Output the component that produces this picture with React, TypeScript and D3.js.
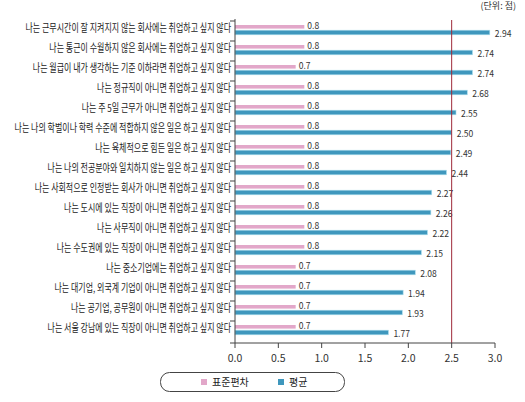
import React from 'react';
import * as d3 from 'd3';

const categories = [
  '나는 근무시간이 잘 지켜지지 않는 회사에는 취업하고 싶지 않다',
  '나는 통근이 수월하지 않은 회사에는 취업하고 싶지 않다',
  '나는 월급이 내가 생각하는 기준 이하라면 취업하고 싶지 않다',
  '나는 정규직이 아니면 취업하고 싶지 않다',
  '나는 주 5일 근무가 아니면 취업하고 싶지 않다',
  '나는 나의 학벌이나 학력 수준에 적합하지 않은 일은 하고 싶지 않다',
  '나는 육체적으로 힘든 일은 하고 싶지 않다',
  '나는 나의 전공분야와 일치하지 않는 일은 하고 싶지 않다',
  '나는 사회적으로 인정받는 회사가 아니면 취업하고 싶지 않다',
  '나는 도시에 있는 직장이 아니면 취업하고 싶지 않다',
  '나는 사무직이 아니면 취업하고 싶지 않다',
  '나는 수도권에 있는 직장이 아니면 취업하고 싶지 않다',
  '나는 중소기업에는 취업하고 싶지 않다',
  '나는 대기업, 외국계 기업이 아니면 취업하고 싶지 않다',
  '나는 공기업,  공무원이 아니면 취업하고 싶지 않다',
  '나는 서울 강남에 있는 직장이 아니면 취업하고 싶지 않다',
];

const stdDev = [0.8, 0.8, 0.7, 0.8, 0.8, 0.8, 0.8, 0.8, 0.8, 0.8, 0.8, 0.8, 0.7, 0.7, 0.7, 0.7];
const mean = [2.94, 2.74, 2.74, 2.68, 2.55, 2.5, 2.49, 2.44, 2.27, 2.26, 2.22, 2.15, 2.08, 1.94, 1.93, 1.77];
const xTicks = [0, 0.5, 1.0, 1.5, 2.0, 2.5, 3.0];
const refValue = 2.5;

const PINK = '#e2a7c9';
const BLUE = '#3f97bd';
const FONT = '"Noto Sans CJK KR", "Noto Sans", sans-serif';

// horizontal squeeze around an anchor x, the labels in the source are condensed
const squeeze = (ax: number, k: number) => `translate(${ax},0) scale(${k},1) translate(${-ax},0)`;

export default function App() {
  const width = 525;
  const height = 402;

  const x = d3.scaleLinear().domain([0, 3]).range([235, 495]);
  const y = d3.scaleBand<number>()
    .domain(d3.range(categories.length))
    .range([21, 341]);
  const axisY = 343;

  return (
    <svg
      width={width}
      height={height}
      style={{ position: 'absolute', left: 0, top: 0, background: '#fff' }}
      fontFamily={FONT}
    >
      {/* unit */}
      <text x={516} y={9} fontSize={9} fill="#333" textAnchor="end">(단위: 점)</text>

      {/* bars */}
      {categories.map((c, i) => {
        const y0 = y(i)!;
        const sx = x(stdDev[i]) + 3;
        const mx = x(mean[i]) + 5;
        return (
          <g key={c}>
            <rect x={x(0)} y={y0 + 4} width={x(stdDev[i]) - x(0)} height={3.6} fill={PINK} />
            <rect x={x(0)} y={y0 + 9.2} width={x(mean[i]) - x(0)} height={4.6} fill={BLUE}
              stroke="#a9dcec" strokeWidth={0.6} />
            <text x={sx} y={y0 + 8.5} fontSize={9.5} fill="#333" transform={squeeze(sx, 0.9)}>
              {stdDev[i].toFixed(1)}
            </text>
            <text x={mx} y={y0 + 16.5} fontSize={9.5} fill="#333" transform={squeeze(mx, 0.9)}>
              {mean[i].toFixed(2)}
            </text>
            <text x={231} y={y0 + 11} fontSize={10.8} fill="#222" textAnchor="end"
              transform={squeeze(231, 0.74)}>
              {c}
            </text>
          </g>
        );
      })}

      {/* category ticks */}
      {d3.range(categories.length + 1).map(i => {
        const yy = i === categories.length ? axisY : y(i)!;
        return <line key={i} x1={230} x2={235} y1={yy} y2={yy} stroke="#444" strokeWidth={1} />;
      })}

      {/* reference line */}
      <line x1={x(refValue)} x2={x(refValue)} y1={20} y2={axisY} stroke="#9e2a3a" strokeWidth={1} />

      {/* axes */}
      <line x1={235} x2={235} y1={19} y2={axisY} stroke="#444" strokeWidth={1} />
      <line x1={235} x2={x(3)} y1={axisY} y2={axisY} stroke="#444" strokeWidth={1} />
      {xTicks.map(t => (
        <g key={t}>
          <line x1={x(t)} x2={x(t)} y1={axisY} y2={axisY + 5} stroke="#444" strokeWidth={1} />
          <text x={x(t)} y={362} fontSize={10.5} fill="#333" textAnchor="middle">{t.toFixed(1)}</text>
        </g>
      ))}

      {/* legend */}
      <rect x={160.5} y={372.5} width={184} height={19} rx={9} fill="#fff" stroke="#444" strokeWidth={1} />
      <rect x={201} y={379} width={6} height={6} fill={PINK} />
      <text x={212} y={386} fontSize={10} fill="#222">표준편차</text>
      <rect x={278} y={379} width={6} height={6} fill={BLUE} />
      <text x={289} y={386} fontSize={10} fill="#222">평균</text>
    </svg>
  );
}
